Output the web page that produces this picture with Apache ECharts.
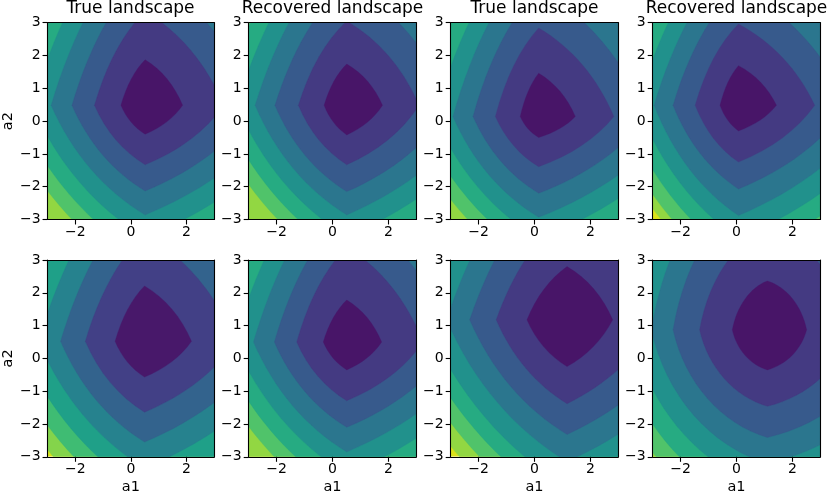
<!DOCTYPE html>
<html>
<head>
<meta charset="utf-8">
<script src="https://cdn.jsdelivr.net/npm/echarts@6/dist/echarts.min.js"></script>
<style>
  html, body { margin: 0; padding: 0; background: #fff; }
  #chart { width: 830px; height: 496px; }
</style>
</head>
<body>
<div id="chart"></div>
<script>
// panels run left to right, top row first
var titles = ['True landscape', 'Recovered landscape', 'True landscape', 'Recovered landscape'];
var xTicks = [-2, 0, 2];
var yTicks = [-3, -2, -1, 0, 1, 2, 3];

// (a1, a2) where the contour corners line up, one per panel
var centres = [[0.51, 0.48], [0.51, 0.48], [0.15, 0.14], [0.07, 0.48],
               [0.49, 0.52], [0.51, 0.50], [1.165, 1.175], [1.105, 0.87]];

// corner positions of each contour level, innermost first
var leftX = [
  [-0.36, -1.31, -2.12, -2.87, -3.56, -4.20, -4.80, -5.90],
  [-0.30, -1.22, -2.06, -2.77, -3.43, -4.04, -4.61, -5.80],
  [-0.51, -1.40, -2.20, -2.92, -3.58, -4.19, -4.76, -5.29],
  [-0.59, -1.48, -2.27, -2.95, -3.55, -4.16, -4.70, -5.05],
  [-0.57, -1.64, -2.53, -3.33, -4.06, -4.73, -5.35],
  [-0.33, -1.28, -2.08, -2.83, -3.52, -4.16, -4.76, -5.90],
  [-0.27, -1.37, -2.32, -3.15, -3.92, -4.55, -5.15, -5.75],
  [-0.15, -1.32, -2.27, -3.05, -3.77, -4.44, -5.06, -5.64]
];
var rightX = [
  [1.86, 3.34, 4.56, 5.68, 6.71, 7.67, 8.57, 9.5],
  [1.79, 3.10, 4.30, 5.40, 6.40, 7.33, 8.20, 9.0],
  [1.46, 2.84, 4.05, 5.15, 6.15, 7.08, 7.95, 8.8],
  [1.43, 2.80, 4.02, 5.12, 6.12, 7.05, 7.92, 8.8],
  [2.18, 3.78, 5.12, 6.32, 7.42, 8.42, 9.4],
  [1.76, 3.25, 4.45, 5.57, 6.60, 7.56, 8.46, 9.4],
  [2.80, 4.45, 5.88, 7.13, 8.28, 9.35, 10.35, 11.3],
  [2.51, 4.10, 5.50, 6.70, 7.80, 8.80, 9.70, 10.6]
];
var bottomY = [
  [-0.40, -1.33, -2.13, -2.86, -3.55, -4.19, -4.79, -5.90],
  [-0.42, -1.33, -2.15, -2.86, -3.52, -4.13, -4.70, -5.80],
  [-0.50, -1.39, -2.20, -2.93, -3.59, -4.20, -4.77, -5.30],
  [-0.30, -1.25, -2.07, -2.88, -3.58, -4.22, -4.81, -5.15],
  [-0.57, -1.64, -2.55, -3.35, -4.08, -4.75, -5.37],
  [-0.35, -1.29, -2.10, -2.85, -3.54, -4.18, -4.78, -5.90],
  [-0.25, -1.38, -2.32, -3.15, -3.92, -4.55, -5.15, -5.75],
  [-0.35, -1.46, -2.41, -3.20, -3.95, -4.65, -5.30, -5.90]
];
var topY = [
  [1.87, 3.35, 4.57, 5.69, 6.72, 7.68, 8.58, 9.5],
  [1.74, 3.05, 4.25, 5.35, 6.35, 7.28, 8.15, 9.0],
  [1.46, 2.84, 4.06, 5.16, 6.16, 7.09, 7.96, 8.8],
  [1.69, 2.96, 4.11, 5.16, 6.13, 7.03, 7.87, 8.7],
  [2.21, 3.81, 5.15, 6.35, 7.45, 8.45, 9.4],
  [1.78, 3.40, 4.60, 5.72, 6.75, 7.71, 8.61, 9.5],
  [2.80, 4.45, 5.88, 7.13, 8.28, 9.35, 10.35, 11.3],
  [2.36, 3.96, 5.36, 6.56, 7.66, 8.66, 9.60, 10.5]
];
// number of colour levels each panel's colormap is split into
var levelCount = [9, 9, 9, 9, 8, 9, 9, 9];

// how far each contour side bows outwards (lower-left, upper-left, upper-right, lower-right)
var bowOut = [0.32, 0.3, 0.33, 0.3];
// how rounded the contour corners are in each panel (0 = sharp)
var cornerRound = [0, 0, 0, 0, 0, 0, 0, 0.45];

var viridisStops = ['#440154', '#48186a', '#472d7b', '#424086', '#3b528b', '#33638d', '#2c728e',
  '#26828e', '#21918c', '#1fa088', '#28ae80', '#3fbc73', '#5ec962', '#84d44b', '#addc30',
  '#d8e219', '#fde725'];

function hexRgb(h) {
  return [parseInt(h.substr(1, 2), 16), parseInt(h.substr(3, 2), 16), parseInt(h.substr(5, 2), 16)];
}
function viridis(t) {
  var f = Math.max(0, Math.min(1, t)) * 16;
  var i = Math.min(15, Math.floor(f)), u = f - i;
  var a = hexRgb(viridisStops[i]), b = hexRgb(viridisStops[i + 1]);
  var c = a.map(function (v, j) { return Math.round(v + (b[j] - v) * u); });
  return 'rgb(' + c.join(',') + ')';
}
function bandColor(p, k) {
  return viridis((k + 0.5) / levelCount[p]);
}

var colLeft = [46.7, 248.7, 450.7, 652.7];
var rowTop = [22.7, 260];
var gridW = 167.6, gridH = 196.8;
var font = 'DejaVu Sans';

function minusSign(v) {
  return String(v).replace('-', '\u2212');
}

function renderFor(p) {
  return function (params, api) {
    var k = api.value(2);
    var cs = params.coordSys;
    var fill = bandColor(p, k);
    if (k >= leftX[p].length) {
      return { type: 'rect', shape: { x: cs.x, y: cs.y, width: cs.width, height: cs.height },
        style: { fill: fill } };
    }
    var c = centres[p];
    var L = [leftX[p][k], c[1]], R = [rightX[p][k], c[1]];
    var B = [c[0], bottomY[p][k]], T = [c[0], topY[p][k]];
    var r = cornerRound[p];
    function xy(q) { var s = api.coord(q); return s[0].toFixed(2) + ' ' + s[1].toFixed(2); }
    // one side of a contour, from corner a to corner b, bowing towards box corner q
    function side(a, b, q, t) {
      var mx = (a[0] + b[0]) / 2, my = (a[1] + b[1]) / 2;
      var cq = [mx + t * (q[0] - mx), my + t * (q[1] - my)];
      var c1 = [a[0] + 2 / 3 * (cq[0] - a[0]), a[1] + 2 / 3 * (cq[1] - a[1])];
      var c2 = [b[0] + 2 / 3 * (cq[0] - b[0]), b[1] + 2 / 3 * (cq[1] - b[1])];
      var r1 = [a[0] + 0.55 * (q[0] - a[0]), a[1] + 0.55 * (q[1] - a[1])];
      var r2 = [b[0] + 0.55 * (q[0] - b[0]), b[1] + 0.55 * (q[1] - b[1])];
      c1 = [c1[0] + r * (r1[0] - c1[0]), c1[1] + r * (r1[1] - c1[1])];
      c2 = [c2[0] + r * (r2[0] - c2[0]), c2[1] + r * (r2[1] - c2[1])];
      return ' C' + xy(c1) + ' ' + xy(c2) + ' ' + xy(b);
    }
    var d = 'M' + xy(L) +
      side(L, T, [L[0], T[1]], bowOut[1]) +
      side(T, R, [R[0], T[1]], bowOut[2]) +
      side(R, B, [R[0], B[1]], bowOut[3]) +
      side(B, L, [L[0], B[1]], bowOut[0]) + ' Z';
    return { type: 'path', shape: { pathData: d }, style: { fill: fill, stroke: fill, lineWidth: 0.3 } };
  };
}

var grids = [], xAxes = [], yAxes = [], series = [], titleList = [];
for (var p = 0; p < 8; p++) {
  var row = Math.floor(p / 4), col = p % 4;
  grids.push({ left: colLeft[col], top: rowTop[row], width: gridW, height: gridH, show: false });
  var axisLineStyle = { color: '#000', width: 1.1 };
  xAxes.push({
    type: 'value', gridIndex: p, min: -3, max: 3, z: 5,
    name: row === 1 ? 'a1' : '', nameLocation: 'middle', nameGap: 23,
    nameTextStyle: { fontFamily: font, fontSize: 14.5, color: '#000' },
    axisLine: { show: true, onZero: false, lineStyle: axisLineStyle },
    axisTick: { show: true, length: 5, customValues: xTicks, lineStyle: axisLineStyle },
    axisLabel: { show: true, customValues: xTicks, formatter: minusSign, margin: 6,
      fontFamily: font, fontSize: 14, color: '#000' },
    splitLine: { show: false }
  });
  xAxes.push({
    type: 'value', gridIndex: p, min: -3, max: 3, position: 'top', z: 5,
    axisLine: { show: true, onZero: false, lineStyle: axisLineStyle },
    axisTick: { show: false }, axisLabel: { show: false }, splitLine: { show: false }
  });
  yAxes.push({
    type: 'value', gridIndex: p, min: -3, max: 3, interval: 1, z: 5,
    name: col === 0 ? 'a2' : '', nameLocation: 'middle', nameGap: 30,
    nameTextStyle: { fontFamily: font, fontSize: 14.5, color: '#000' },
    axisLine: { show: true, onZero: false, lineStyle: axisLineStyle },
    axisTick: { show: true, length: 5, lineStyle: axisLineStyle },
    axisLabel: { show: true, formatter: minusSign, margin: 7,
      fontFamily: font, fontSize: 14, color: '#000' },
    splitLine: { show: false }
  });
  yAxes.push({
    type: 'value', gridIndex: p, min: -3, max: 3, position: 'right', z: 5,
    axisLine: { show: true, onZero: false, lineStyle: axisLineStyle },
    axisTick: { show: false }, axisLabel: { show: false }, splitLine: { show: false }
  });
  var levels = [];
  for (var k = leftX[p].length; k >= 0; k--) levels.push([0, 0, k]);
  series.push({
    type: 'custom', coordinateSystem: 'cartesian2d',
    xAxisIndex: 2 * p, yAxisIndex: 2 * p, clip: true, silent: true, z: 1,
    renderItem: renderFor(p), data: levels
  });
  if (row === 0) {
    titleList.push({
      text: titles[col], left: colLeft[col] + gridW / 2, top: 0, padding: 0, textAlign: 'center',
      textStyle: { fontFamily: font, fontSize: 17, fontWeight: 'normal', color: '#000' }
    });
  }
}

var chart = echarts.init(document.getElementById('chart'), null, { renderer: 'canvas' });
chart.setOption({
  animation: false,
  backgroundColor: '#fff',
  title: titleList,
  grid: grids,
  xAxis: xAxes,
  yAxis: yAxes,
  series: series
});
</script>
</body>
</html>
